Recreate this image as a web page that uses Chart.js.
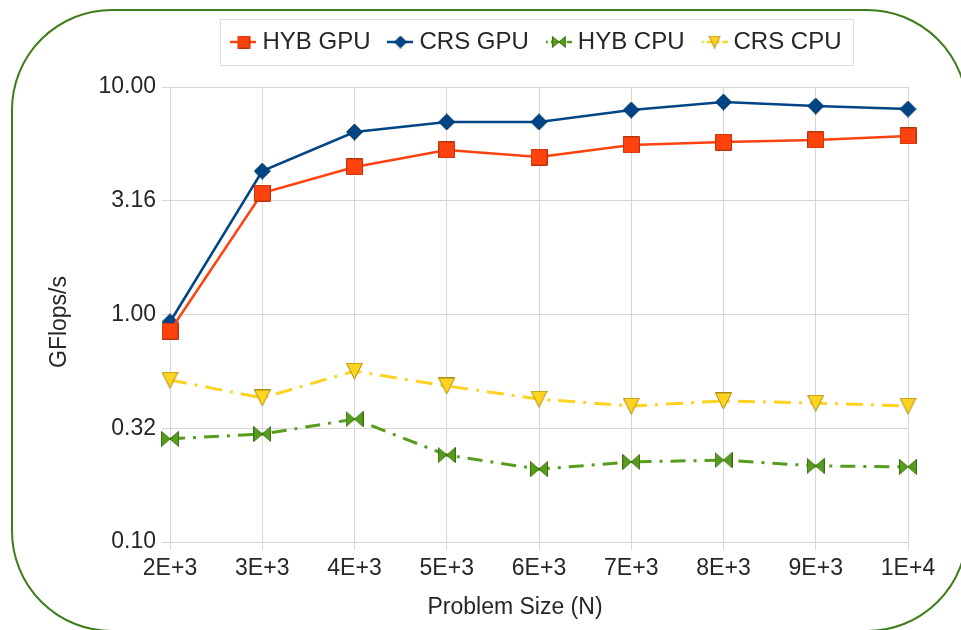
<!DOCTYPE html>
<html>
<head>
<meta charset="utf-8">
<script src="https://cdn.jsdelivr.net/npm/chart.js@4.4.1/dist/chart.umd.min.js"></script>
<style>
  html, body { margin: 0; padding: 0; background: #ffffff; }
  #wrap { width: 961px; height: 630px; }
</style>
</head>
<body>
<div id="wrap"><canvas id="perf" width="961" height="630"></canvas></div>
<script>
// Problem sizes on the x axis
const problemSizes = ['2E+3', '3E+3', '4E+3', '5E+3', '6E+3', '7E+3', '8E+3', '9E+3', '1E+4'];

// Throughput in GFlops/s for each kernel / device
const hybGpu = [0.846, 3.42, 4.45, 5.29, 4.92, 5.56, 5.73, 5.85, 6.09];
const crsGpu = [0.927, 4.27, 6.34, 7.02, 7.02, 7.92, 8.59, 8.25, 8.00];
const hybCpu = [0.284, 0.298, 0.347, 0.241, 0.209, 0.225, 0.229, 0.216, 0.214];
const crsCpu = [0.515, 0.430, 0.564, 0.485, 0.425, 0.396, 0.417, 0.408, 0.396];

// Half-decade ticks of the log axis
const yTickValues = [0.1, 0.3162, 1, 3.162, 10];

// Axis titles
const xTitle = 'Problem Size (N)';
const yTitle = 'GFlops/s';

const FONT = '"Liberation Sans", Arial, sans-serif';
const TEXT_COLOR = '#262626';
const GRID_COLOR = '#d6d6d6';

// ---- marker glyphs -------------------------------------------------------
function shapePath(ctx, kind, w, h) {
  ctx.beginPath();
  if (kind === 'square') {
    ctx.rect(0.5, 0.5, w - 1, h - 1);
  } else if (kind === 'diamond') {
    ctx.moveTo(w / 2, 0.5); ctx.lineTo(w - 0.5, h / 2);
    ctx.lineTo(w / 2, h - 0.5); ctx.lineTo(0.5, h / 2); ctx.closePath();
  } else if (kind === 'bowtie') {
    ctx.moveTo(0.5, 0.5); ctx.lineTo(w / 2, h / 2); ctx.lineTo(0.5, h - 0.5); ctx.closePath();
    ctx.moveTo(w - 0.5, 0.5); ctx.lineTo(w / 2, h / 2); ctx.lineTo(w - 0.5, h - 0.5); ctx.closePath();
  } else if (kind === 'triDown') {
    ctx.moveTo(0.5, 0.5); ctx.lineTo(w - 0.5, 0.5); ctx.lineTo(w / 2, h - 0.5); ctx.closePath();
  }
}

function makeMarker(kind, w, h, fill, stroke) {
  const c = document.createElement('canvas');
  c.width = w; c.height = h;
  const ctx = c.getContext('2d');
  shapePath(ctx, kind, w, h);
  ctx.fillStyle = fill; ctx.fill();
  ctx.lineWidth = 1; ctx.strokeStyle = stroke; ctx.stroke();
  return c;
}

// Legend sample: a short stretch of the series line with its marker on top
function makeLegendIcon(kind, mw, mh, fill, stroke, dash) {
  const W = 26, H = 20;
  const c = document.createElement('canvas');
  c.width = W; c.height = H;
  const ctx = c.getContext('2d');
  ctx.strokeStyle = fill; ctx.lineWidth = 2.5;
  ctx.setLineDash(dash);
  ctx.beginPath(); ctx.moveTo(0, H / 2); ctx.lineTo(W, H / 2); ctx.stroke();
  ctx.setLineDash([]);
  ctx.drawImage(makeMarker(kind, mw, mh, fill, stroke), (W - mw) / 2, (H - mh) / 2);
  return c;
}

const series = [
  { label: 'HYB GPU', data: hybGpu, color: '#ff420e', edge: '#b8320c', kind: 'square', mw: 17, mh: 17, dash: [], lw: [13, 13] },
  { label: 'CRS GPU', data: crsGpu, color: '#004586', edge: '#003060', kind: 'diamond', mw: 17, mh: 17, dash: [], lw: [13, 13] },
  { label: 'HYB CPU', data: hybCpu, color: '#579d1c', edge: '#3b6e12', kind: 'bowtie', mw: 18, mh: 16, dash: [15, 8, 3, 8], lw: [14, 12] },
  { label: 'CRS CPU', data: crsCpu, color: '#ffd320', edge: '#a88a10', kind: 'triDown', mw: 17, mh: 17, dash: [17, 8, 3, 8], lw: [12, 13] }
];

const legendIcons = series.map(s =>
  makeLegendIcon(s.kind, s.lw[0], s.lw[1], s.color, s.edge, s.dash.length ? [2, 3, 8, 3] : []));

// ---- plugins -------------------------------------------------------------
// White page with the rounded green frame around everything
const framePlugin = {
  id: 'frame',
  beforeDraw(chart) {
    const ctx = chart.ctx;
    ctx.save();
    ctx.fillStyle = '#ffffff';
    ctx.fillRect(0, 0, chart.width, chart.height);
    ctx.beginPath();
    ctx.roundRect(12, 10, 955, 621, 100);
    ctx.lineWidth = 2;
    ctx.strokeStyle = '#3d7d1a';
    ctx.stroke();
    ctx.restore();
  }
};

// Axis titles, centred on the whole drawing rather than on the plot area
const axisTitles = {
  id: 'axisTitles',
  afterDraw(chart) {
    const ctx = chart.ctx;
    ctx.save();
    ctx.fillStyle = TEXT_COLOR;
    ctx.font = '23px ' + FONT;
    ctx.textAlign = 'center';
    ctx.textBaseline = 'middle';
    ctx.fillText(xTitle, 515, 608);
    ctx.translate(60, 322);
    ctx.rotate(-Math.PI / 2);
    ctx.fillText(yTitle, 0, 0);
    ctx.restore();
  }
};

// Fixed legend band height so the plot starts below it with some air
const LEGEND_BAND = 80;
const legendBand = {
  id: 'legendBand',
  beforeLayout(chart) {
    const lg = chart.legend;
    if (lg && !lg.$banded) {
      const fit = lg.fit.bind(lg);
      lg.fit = function () { fit(); this.height = LEGEND_BAND; };
      lg.$banded = true;
    }
  },
  afterDraw(chart) {
    const lg = chart.legend;
    if (!lg || !lg.legendHitBoxes.length) return;
    const boxes = lg.legendHitBoxes;
    const first = boxes[0], last = boxes[boxes.length - 1];
    const left = first.left - 16;
    const right = last.left + last.width + 12;
    const cy = first.top + first.height / 2;
    const ctx = chart.ctx;
    ctx.save();
    ctx.strokeStyle = '#dcdcdc';
    ctx.lineWidth = 1;
    ctx.strokeRect(Math.round(left) + 0.5, Math.round(cy - 23) + 0.5, Math.round(right - left), 46);
    ctx.restore();
  }
};

Chart.defaults.font.family = FONT;
Chart.defaults.font.size = 23;
Chart.defaults.color = TEXT_COLOR;

new Chart(document.getElementById('perf'), {
  type: 'line',
  data: {
    labels: problemSizes,
    datasets: series.map(s => ({
      label: s.label,
      data: s.data,
      borderColor: s.color,
      backgroundColor: s.color,
      borderWidth: s.dash.length ? 3 : 2.5,
      borderDash: s.dash,
      tension: 0,
      fill: false,
      pointStyle: makeMarker(s.kind, s.mw, s.mh, s.color, s.edge),
      pointRadius: 9,
      pointHoverRadius: 9
    }))
  },
  options: {
    responsive: false,
    animation: false,
    devicePixelRatio: 1,
    events: [],
    layout: { padding: { top: 7, left: 46, right: 53, bottom: 8 } },
    plugins: {
      tooltip: { enabled: false },
      legend: {
        position: 'top',
        fullSize: false,
        labels: {
          usePointStyle: true,
          pointStyleWidth: 14,
          padding: 23,
          color: TEXT_COLOR,
          font: { size: 24 },
          generateLabels(chart) {
            return chart.data.datasets.map((ds, i) => ({
              text: ds.label,
              pointStyle: legendIcons[i],
              fontColor: TEXT_COLOR,
              fillStyle: 'transparent',
              strokeStyle: 'transparent',
              lineWidth: 0,
              hidden: false,
              datasetIndex: i
            }));
          }
        }
      }
    },
    scales: {
      x: {
        type: 'category',
        offset: false,
        grid: { color: GRID_COLOR, lineWidth: 1, drawTicks: true, tickLength: 8 },
        border: { color: GRID_COLOR },
        ticks: { autoSkip: false, maxRotation: 0, padding: 5, color: TEXT_COLOR },
        afterFit(scale) { scale.height = 80; }
      },
      y: {
        type: 'logarithmic',
        min: 0.1,
        max: 10,
        afterBuildTicks(scale) { scale.ticks = yTickValues.map(v => ({ value: v })); },
        grid: { color: GRID_COLOR, lineWidth: 1, drawTicks: true, tickLength: 8 },
        border: { color: GRID_COLOR },
        ticks: { padding: 6, color: TEXT_COLOR, callback: v => Number(v).toFixed(2) },
        afterFit(scale) { scale.width = 124; }
      }
    }
  },
  plugins: [framePlugin, legendBand, axisTitles]
});
</script>
</body>
</html>
